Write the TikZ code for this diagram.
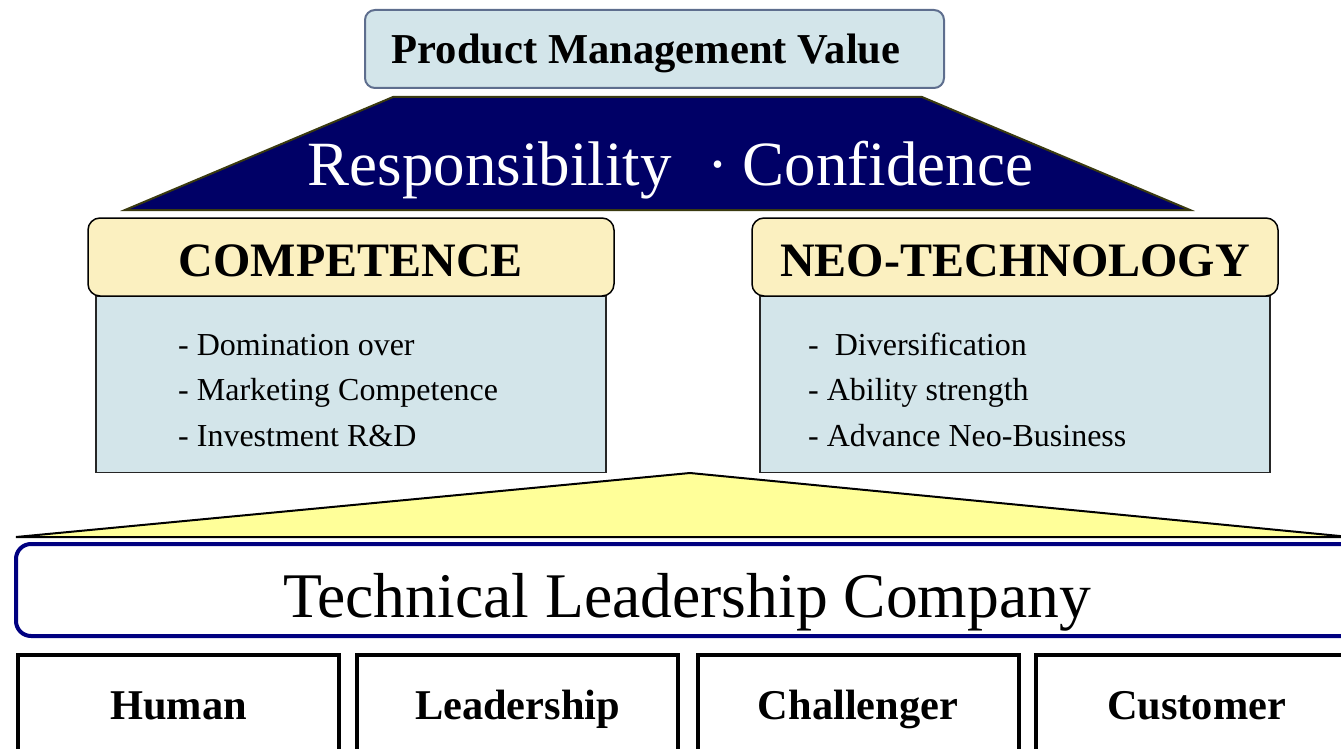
\documentclass[tikz,border=0pt]{standalone}
\usepackage{fontspec}
\setmainfont{Liberation Serif}
\definecolor{paleblue}{HTML}{D3E5EA}
\definecolor{pmvedge}{HTML}{5E6E8E}
\definecolor{cream}{HTML}{FBF0C0}
\definecolor{navyfill}{HTML}{000066}
\definecolor{navyedge}{HTML}{000080}
\definecolor{oliveedge}{HTML}{3A3A10}
\definecolor{wedgeyellow}{HTML}{FFFF99}
\begin{document}
\begin{tikzpicture}[x=1pt,y=-1pt,
  valuebox/.style={draw=pmvedge,fill=paleblue,line width=2pt,rounded corners=10pt,
    minimum width=579pt,minimum height=78pt,text height=30pt,text depth=0pt,
    font=\fontsize{42.6}{50}\selectfont\bfseries},
  headbox/.style={draw=black,fill=cream,line width=1.5pt,rounded corners=12pt,
    minimum width=526pt,minimum height=78pt,text height=38pt,text depth=0pt,
    font=\fontsize{48}{56}\selectfont\bfseries},
  listbox/.style={draw=black!85,fill=paleblue,line width=1.5pt,
    minimum width=510pt,minimum height=176pt},
  item/.style={anchor=base west,inner sep=0pt,font=\fontsize{32}{38}\selectfont},
  companybox/.style={draw=navyedge,fill=white,line width=4pt,rounded corners=15pt,
    minimum width=1342pt,minimum height=92pt,text height=54pt,text depth=0pt,
    font=\fontsize{63.6}{70}\selectfont},
  pillar/.style={draw=black,fill=white,line width=4pt,
    minimum width=321pt,minimum height=128pt,text height=0pt,text depth=0pt,
    font=\fontsize{42.4}{50}\selectfont\bfseries}]
  \useasboundingbox (0,0) rectangle (1341,749);
  \clip (0,0) rectangle (1341,749);
  \node [valuebox] (pmv) at (654.5,49) {Product Management Value\kern17pt};
  \filldraw [draw=oliveedge,fill=navyfill,line width=2pt] (393,97) -- (922,97) -- (1190,210) -- (125,210) -- cycle;
  \node [anchor=base,text=white,font=\fontsize{63}{70}\selectfont] (rc) at (670.5,185)
    {Responsibility\hspace{36pt}·\hspace{14pt}Confidence};
  \node [listbox] (complist) at (351,384.5) {};
  \node [listbox] (neolist) at (1015,384.5) {};
  \node [headbox] (comp) at (351,257) {COMPETENCE};
  \node [headbox] (neo) at (1015,257) {NEO-TECHNOLOGY};
  \foreach \t [count=\i] in {- Domination over,- Marketing Competence,- Investment R\&D}
    \node [item] (comp\i) at (178,309.5+45.5*\i) {\t};
  \foreach \t [count=\i] in {-\ \ Diversification,- Ability strength,- Advance Neo-Business}
    \node [item] (neo\i) at (808,309.5+45.5*\i) {\t};
  \filldraw [draw=black,fill=wedgeyellow,line width=2pt] (690,473) -- (1350,537) -- (16,537) -- cycle;
  \node [companybox] (tlc) at (687,590) {Technical Leadership Company};
  \node [pillar] (human) at (178.5,719) {Human};
  \node [pillar] (leader) at (517.5,719) {Leadership};
  \node [pillar] (chall) at (858,719) {Challenger};
  \node [pillar] (cust) at (1196.5,719) {Customer};
\end{tikzpicture}
\end{document}
